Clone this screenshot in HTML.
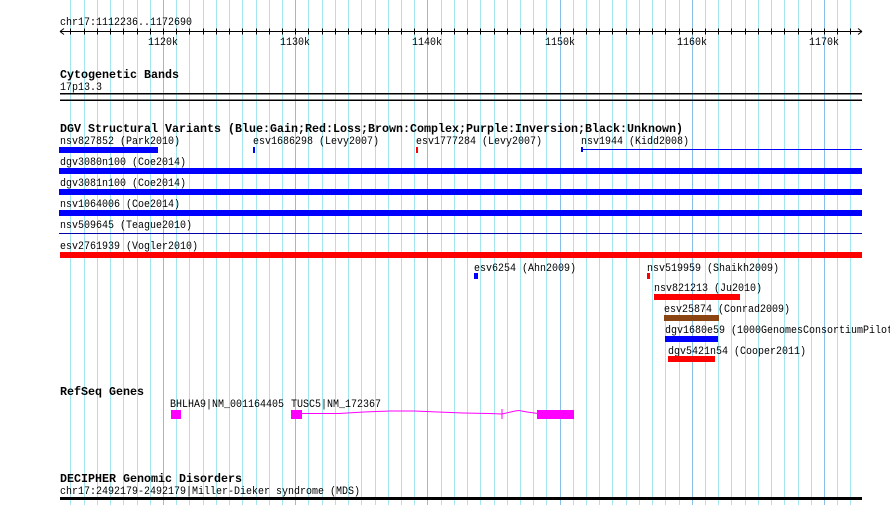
<!DOCTYPE html>
<html><head><meta charset="utf-8"><style>
html,body{margin:0;padding:0;background:#fff;}
svg{display:block}
text{font-family:"Liberation Mono",monospace;font-size:11px;fill:#000}
.b{font-weight:bold;font-size:12px}
</style></head><body>
<svg id="s" width="890" height="505" xmlns="http://www.w3.org/2000/svg">
<g id="grid"></g>
<text x="60" y="25">chr17:1112236..1172690</text>
<line x1="60" y1="31.5" x2="862" y2="31.5" stroke="#000"/>
<path d="M60 31.5 l4 -3 M60 31.5 l4 3 M862 31.5 l-4 -3 M862 31.5 l-4 3" stroke="#000" fill="none"/>
<g id="ticks"></g>
<text x="148" y="45">1120k</text>
<text x="280" y="45">1130k</text>
<text x="412" y="45">1140k</text>
<text x="545" y="45">1150k</text>
<text x="677" y="45">1160k</text>
<text x="809" y="45">1170k</text>

<text class="b" x="60" y="78">Cytogenetic Bands</text>
<text x="60" y="90">17p13.3</text>
<rect x="60" y="93" width="802" height="1.5" fill="#000"/>
<rect x="60" y="99.5" width="802" height="1.5" fill="#000"/>

<text class="b" x="60" y="132">DGV Structural Variants (Blue:Gain;Red:Loss;Brown:Complex;Purple:Inversion;Black:Unknown)</text>
<text x="60" y="144">nsv827852 (Park2010)</text>
<rect x="59" y="147" width="99" height="6" fill="#00f"/>
<text x="253" y="144">esv1686298 (Levy2007)</text>
<rect x="253" y="147" width="2" height="6" fill="#00f"/>
<text x="416" y="144">esv1777284 (Levy2007)</text>
<rect x="416" y="147" width="2" height="6" fill="#f00"/>
<text x="581" y="144">nsv1944 (Kidd2008)</text>
<rect x="581" y="147" width="2" height="5" fill="#00f"/>
<rect x="581" y="149" width="281" height="1" fill="#00f"/>

<text x="60" y="165">dgv3080n100 (Coe2014)</text>
<rect x="59" y="168" width="803" height="6" fill="#00f"/>
<text x="60" y="186">dgv3081n100 (Coe2014)</text>
<rect x="59" y="189" width="803" height="6" fill="#00f"/>
<text x="60" y="207">nsv1064006 (Coe2014)</text>
<rect x="59" y="210" width="803" height="6" fill="#00f"/>
<text x="60" y="228">nsv509645 (Teague2010)</text>
<rect x="59" y="233" width="803" height="1" fill="#00a"/>
<text x="60" y="249">esv2761939 (Vogler2010)</text>
<rect x="60" y="252" width="802" height="6" fill="#f00"/>

<text x="474" y="271">esv6254 (Ahn2009)</text>
<rect x="474" y="273" width="4" height="6" fill="#00f"/>
<text x="647" y="271">nsv519959 (Shaikh2009)</text>
<rect x="647" y="273" width="3" height="6" fill="#f00"/>
<text x="654" y="291">nsv821213 (Ju2010)</text>
<rect x="654" y="294" width="86" height="6" fill="#f00"/>
<text x="664" y="312">esv25874 (Conrad2009)</text>
<rect x="664" y="315" width="55" height="6" fill="#8b4513"/>
<text x="665" y="333">dgv1680e59 (1000GenomesConsortiumPilot</text>
<rect x="665" y="336" width="53" height="6" fill="#00f"/>
<text x="668" y="354">dgv5421n54 (Cooper2011)</text>
<rect x="668" y="356" width="47" height="6" fill="#f00"/>

<text class="b" x="60" y="395">RefSeq Genes</text>
<text x="170" y="407">BHLHA9|NM_001164405</text>
<text x="291" y="407">TUSC5|NM_172367</text>
<rect x="171" y="410" width="10" height="9" fill="#f0f"/>
<rect x="291" y="410" width="11" height="9" fill="#f0f"/>
<polyline points="302,413.5 339,413.5 364,412 390,411 414,411 438,412 463,413 489,413.5 502,414 515,411 519,410.5 527,412 538,413.5" stroke="#f0f" fill="none" stroke-width="1"/>
<rect x="501.5" y="409" width="1" height="10" fill="#f0f"/>
<rect x="537" y="410" width="37" height="9" fill="#f0f"/>

<text class="b" x="60" y="482">DECIPHER Genomic Disorders</text>
<text x="60" y="494">chr17:2492179-2492179|Miller-Dieker syndrome (MDS)</text>
<rect x="60" y="497" width="802" height="3" fill="#000"/>
</svg>
<script>
var ns="http://www.w3.org/2000/svg",g=document.getElementById("grid"),t=document.getElementById("ticks");
for(var k=1113;k<=1172;k++){var x=Math.round(163+(k-1120)*13.22)+0.5;
var l=document.createElementNS(ns,"line");l.setAttribute("x1",x);l.setAttribute("x2",x);l.setAttribute("y1",0);l.setAttribute("y2",505);
l.setAttribute("stroke",k%10==0?"#88c0e8":"#a4e6ee");g.appendChild(l);
var m=document.createElementNS(ns,"line");m.setAttribute("x1",x);m.setAttribute("x2",x);m.setAttribute("y1",28.5);m.setAttribute("y2",34.5);m.setAttribute("stroke","#000");t.appendChild(m);}
var ts=document.querySelectorAll("text");
for(var i=0;i<ts.length;i++){var e=ts[i],n=e.textContent.length,w=e.getAttribute("class")=="b"?7:6;
e.setAttribute("textLength",n*w);e.setAttribute("lengthAdjust","spacingAndGlyphs");}
</script>
</body></html>
